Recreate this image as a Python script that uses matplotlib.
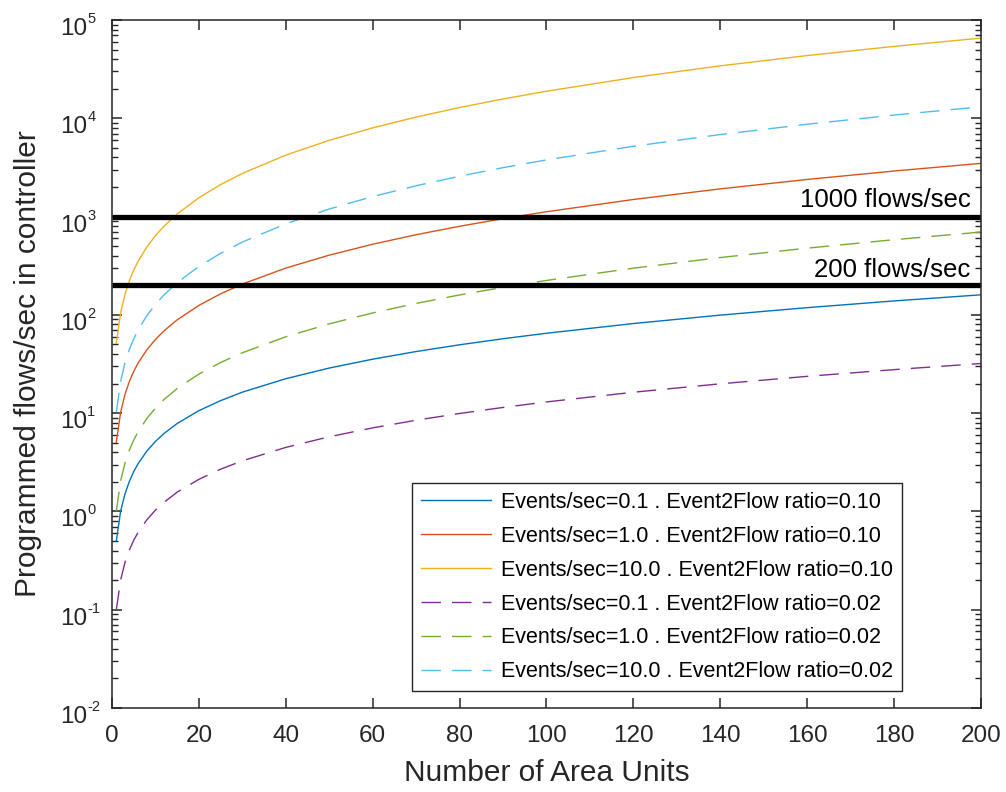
import matplotlib
matplotlib.use("Agg")
import matplotlib.pyplot as plt
import matplotlib.transforms as mtransforms
from matplotlib.ticker import LogLocator, MultipleLocator, NullFormatter

plt.rcParams['font.family'] = ['Liberation Sans', 'DejaVu Sans']
plt.rcParams['axes.unicode_minus'] = False

# Number of area units (x)
area_units = [1, 2, 3, 4, 5, 6, 8, 10, 12, 15, 20, 25, 30, 40, 50, 60, 70, 80,
              90, 100, 120, 140, 160, 180, 200]

# Ratio 0.10 series
ev01_r10 = [0.50, 1.01, 1.51, 2.02, 2.54, 3.05, 4.10, 5.15, 6.22, 7.84, 10.6, 13.4,
            16.35, 22.4, 28.75, 35.4, 42.35, 49.6, 57.15, 65.0, 81.6, 99.4, 118.4,
            138.6, 160.0]
ev1_r10 = [5.06, 10.25, 15.56, 20.99, 26.55, 32.23, 43.97, 56.2, 68.93, 88.95, 124.8,
           163.75, 205.8, 299.2, 405.0, 523.2, 653.8, 796.8, 952.2, 1120, 1493, 1915,
           2387, 2909, 3480]
ev10_r10 = [51.4, 105.5, 162.5, 222.2, 284.7, 349.9, 488.8, 638.7, 799.7, 1062, 1555,
            2117, 2748, 4219, 5968, 7993, 10296, 12877, 15735, 18870, 25973, 34185,
            43507, 53939, 65480]
# Ratio 0.02 series
ev01_r02 = [0.100, 0.201, 0.303, 0.405, 0.508, 0.611, 0.819, 1.03, 1.24, 1.57, 2.12,
            2.69, 3.27, 4.48, 5.75, 7.08, 8.47, 9.92, 11.43, 13.0, 16.32, 19.88, 23.68,
            27.72, 32.0]
ev1_r02 = [1.01, 2.05, 3.11, 4.20, 5.31, 6.45, 8.79, 11.24, 13.79, 17.79, 24.96, 32.75,
           41.16, 59.84, 81.0, 104.6, 130.8, 159.4, 190.4, 224.0, 298.6, 383.0, 477.4,
           581.8, 696.0]
ev10_r02 = [10.28, 21.1, 32.5, 44.4, 56.9, 70.0, 97.8, 127.7, 159.9, 212.4, 311, 423,
            550, 844, 1194, 1599, 2059, 2575, 3147, 3774, 5195, 6837, 8701, 10788, 13096]

labels = ["Events/sec=0.1 . Event2Flow ratio=0.10",
          "Events/sec=1.0 . Event2Flow ratio=0.10",
          "Events/sec=10.0 . Event2Flow ratio=0.10",
          "Events/sec=0.1 . Event2Flow ratio=0.02",
          "Events/sec=1.0 . Event2Flow ratio=0.02",
          "Events/sec=10.0 . Event2Flow ratio=0.02"]

thresholds = [1000, 200]
threshold_labels = ["1000 flows/sec", "200 flows/sec"]
threshold_label_y = [1254, 243]

y_exponents = [-2, -1, 0, 1, 2, 3, 4, 5]

colors = ['#0072BD', '#D95319', '#EDB120', '#7E2F8E', '#77AC30', '#4DBEEE']
series = [ev01_r10, ev1_r10, ev10_r10, ev01_r02, ev1_r02, ev10_r02]
styles = ['-', '-', '-', '--', '--', '--']

fig = plt.figure(figsize=(10.06, 7.92), dpi=100)
ax = fig.add_axes([0.1113, 0.1061, 0.8638, 0.8686])

for ys, c, ls, lab in zip(series, colors, styles, labels):
    if ls == '--':
        ax.plot(area_units, ys, color=c, lw=1.0, linestyle=(0, (14, 8)), label=lab)
    else:
        ax.plot(area_units, ys, color=c, lw=1.0, linestyle='-', label=lab)

for t in thresholds:
    ax.plot([0, 200], [t, t], color='black', lw=3.8, solid_capstyle='butt')

for lab, yv in zip(threshold_labels, threshold_label_y):
    ax.text(197.6, yv, lab, ha='right', va='baseline', fontsize=18.5, color='black')

ax.set_yscale('log')
ax.set_xlim(0, 200)
ax.set_ylim(1e-2, 1e5)
ax.xaxis.set_major_locator(MultipleLocator(20))
ax.yaxis.set_major_locator(LogLocator(base=10, numticks=20))
ax.yaxis.set_minor_locator(LogLocator(base=10, subs=range(2, 10), numticks=20))
ax.yaxis.set_minor_formatter(NullFormatter())
ax.yaxis.set_major_formatter(NullFormatter())

axc = '#262626'
for s in ax.spines.values():
    s.set_color(axc)
    s.set_linewidth(1.1)
ax.tick_params(which='both', direction='in', top=True, right=True, colors=axc,
               labelcolor=axc, labelsize=17.5)
ax.tick_params(which='major', length=7, width=1.1)
ax.tick_params(axis='x', which='major', pad=12.5)
ax.tick_params(which='minor', length=4.5, width=1.0)

# MATLAB-style y tick labels: "10" with raised exponent
blend = mtransforms.blended_transform_factory(ax.transAxes, ax.transData)
base_tr = mtransforms.offset_copy(blend, fig=fig, x=0, y=-15, units='dots')
exp_tr = mtransforms.offset_copy(blend, fig=fig, x=0, y=-3, units='dots')
xlab = -24.7 / 869.0
for e in y_exponents:
    ax.text(xlab, 10.0 ** e, "10", transform=base_tr, ha='right', va='baseline',
            fontsize=17.5, color=axc, clip_on=False)
    ax.text(xlab, 10.0 ** e, str(e), transform=exp_tr, ha='left', va='baseline',
            fontsize=10.5, color=axc, clip_on=False)

ax.set_xlabel("Number of Area Units", fontsize=21.5, color=axc)
ax.set_ylabel("Programmed flows/sec in controller", fontsize=21.5, color=axc)
ax.xaxis.set_label_coords(0.5, -0.0749)
ax.yaxis.set_label_coords(-0.0806, 0.5)

leg = ax.legend(loc='lower right', bbox_to_anchor=(0.909, 0.0247), fontsize=15.5,
                frameon=True, fancybox=False, handlelength=3.26, handletextpad=0.47,
                labelspacing=0.6, borderpad=0.4, borderaxespad=0.0)
leg.get_frame().set_edgecolor('#262626')
leg.get_frame().set_linewidth(1.0)
leg.get_frame().set_alpha(1.0)
for t in leg.get_texts():
    t.set_color('black')

fig.savefig("out.png", dpi=100)
